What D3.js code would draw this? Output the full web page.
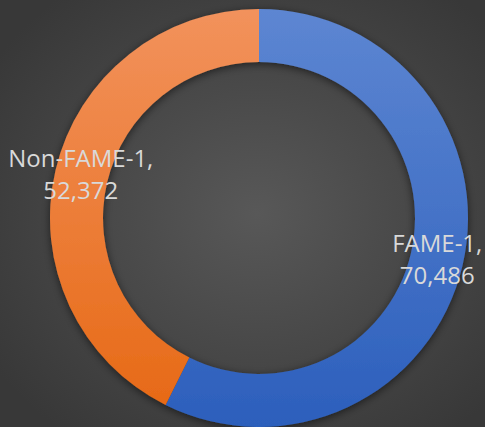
<!DOCTYPE html>
<html lang="en">
<head>
    <meta charset="UTF-8">
    <title>FAME-1 donut</title>
    <style>
        body { margin: 0; background: #404040; }
        text { font-family: "Open Sans", "DejaVu Sans", sans-serif; }
    </style>
</head>
<body>
    <svg id="container" width="485" height="427"></svg>
</body>

<script src="https://cdn.jsdelivr.net/npm/d3@7"></script>

<script>

    let categories = ["FAME-1", "Non-FAME-1"]
    let values = [70486, 52372]
    let colorsTop = ["#5d86d2", "#f2925c"]
    let colorsBottom = ["#2c5fbc", "#e76a17"]

    let svg = d3.select("#container")
    let defs = svg.append("defs")

    let bg = defs.append("radialGradient").attr("id", "bg")
        .attr("cx", "53%").attr("cy", "50%").attr("r", "65%")
    bg.append("stop").attr("offset", "0%").attr("stop-color", "#585858")
    bg.append("stop").attr("offset", "100%").attr("stop-color", "#383838")

    categories.forEach((c, i) => {
        let g = defs.append("linearGradient").attr("id", "grad" + i)
            .attr("x1", 0).attr("y1", 0).attr("x2", 0).attr("y2", 1)
        g.append("stop").attr("offset", "0%").attr("stop-color", colorsTop[i])
        g.append("stop").attr("offset", "100%").attr("stop-color", colorsBottom[i])
    })

    let shadow = defs.append("filter").attr("id", "shadow")
        .attr("x", "-20%").attr("y", "-20%").attr("width", "140%").attr("height", "140%")
    shadow.append("feDropShadow").attr("dx", 0).attr("dy", 2)
        .attr("stdDeviation", 4).attr("flood-color", "#000").attr("flood-opacity", 0.55)

    svg.append("rect").attr("width", 485).attr("height", 427).attr("fill", "url(#bg)")

    let cx = 259, cy = 218
    let outer = 209, inner = 156

    let pie = d3.pie().sort(null).value(d => d.value)
    let arc = d3.arc().innerRadius(inner).outerRadius(outer)

    let data = categories.map((c, i) => ({ name: c, value: values[i], idx: i }))
    let arcs = pie(data)

    let body = svg.append("g").attr("transform", `translate(${cx},${cy})`)

    body.append("g").attr("filter", "url(#shadow)")
        .selectAll("path")
        .data(arcs)
        .join("path")
        .attr("d", arc)
        .attr("fill", d => `url(#grad${d.data.idx})`)

    // label positions, placed over the ring like the original
    let labelArc = d3.arc().innerRadius(outer - 30).outerRadius(outer - 30)
    let fmt = d3.format(",")
    let offsets = [[4, -7], [-4, -10]]

    let labels = body.selectAll("text.lbl")
        .data(arcs)
        .join("text")
        .attr("class", "lbl")
        .attr("fill", "#d9d9d9")
        .attr("font-size", 24)
        .attr("text-anchor", "middle")
        .attr("transform", d => {
            let p = labelArc.centroid(d)
            let o = offsets[d.data.idx]
            return `translate(${p[0] + o[0]},${p[1] + o[1]})`
        })

    labels.append("tspan").attr("x", 0).attr("dy", 0).text(d => d.data.name + ",")
    labels.append("tspan").attr("x", 0).attr("dy", 32).text(d => fmt(d.data.value))

</script>
</html>
